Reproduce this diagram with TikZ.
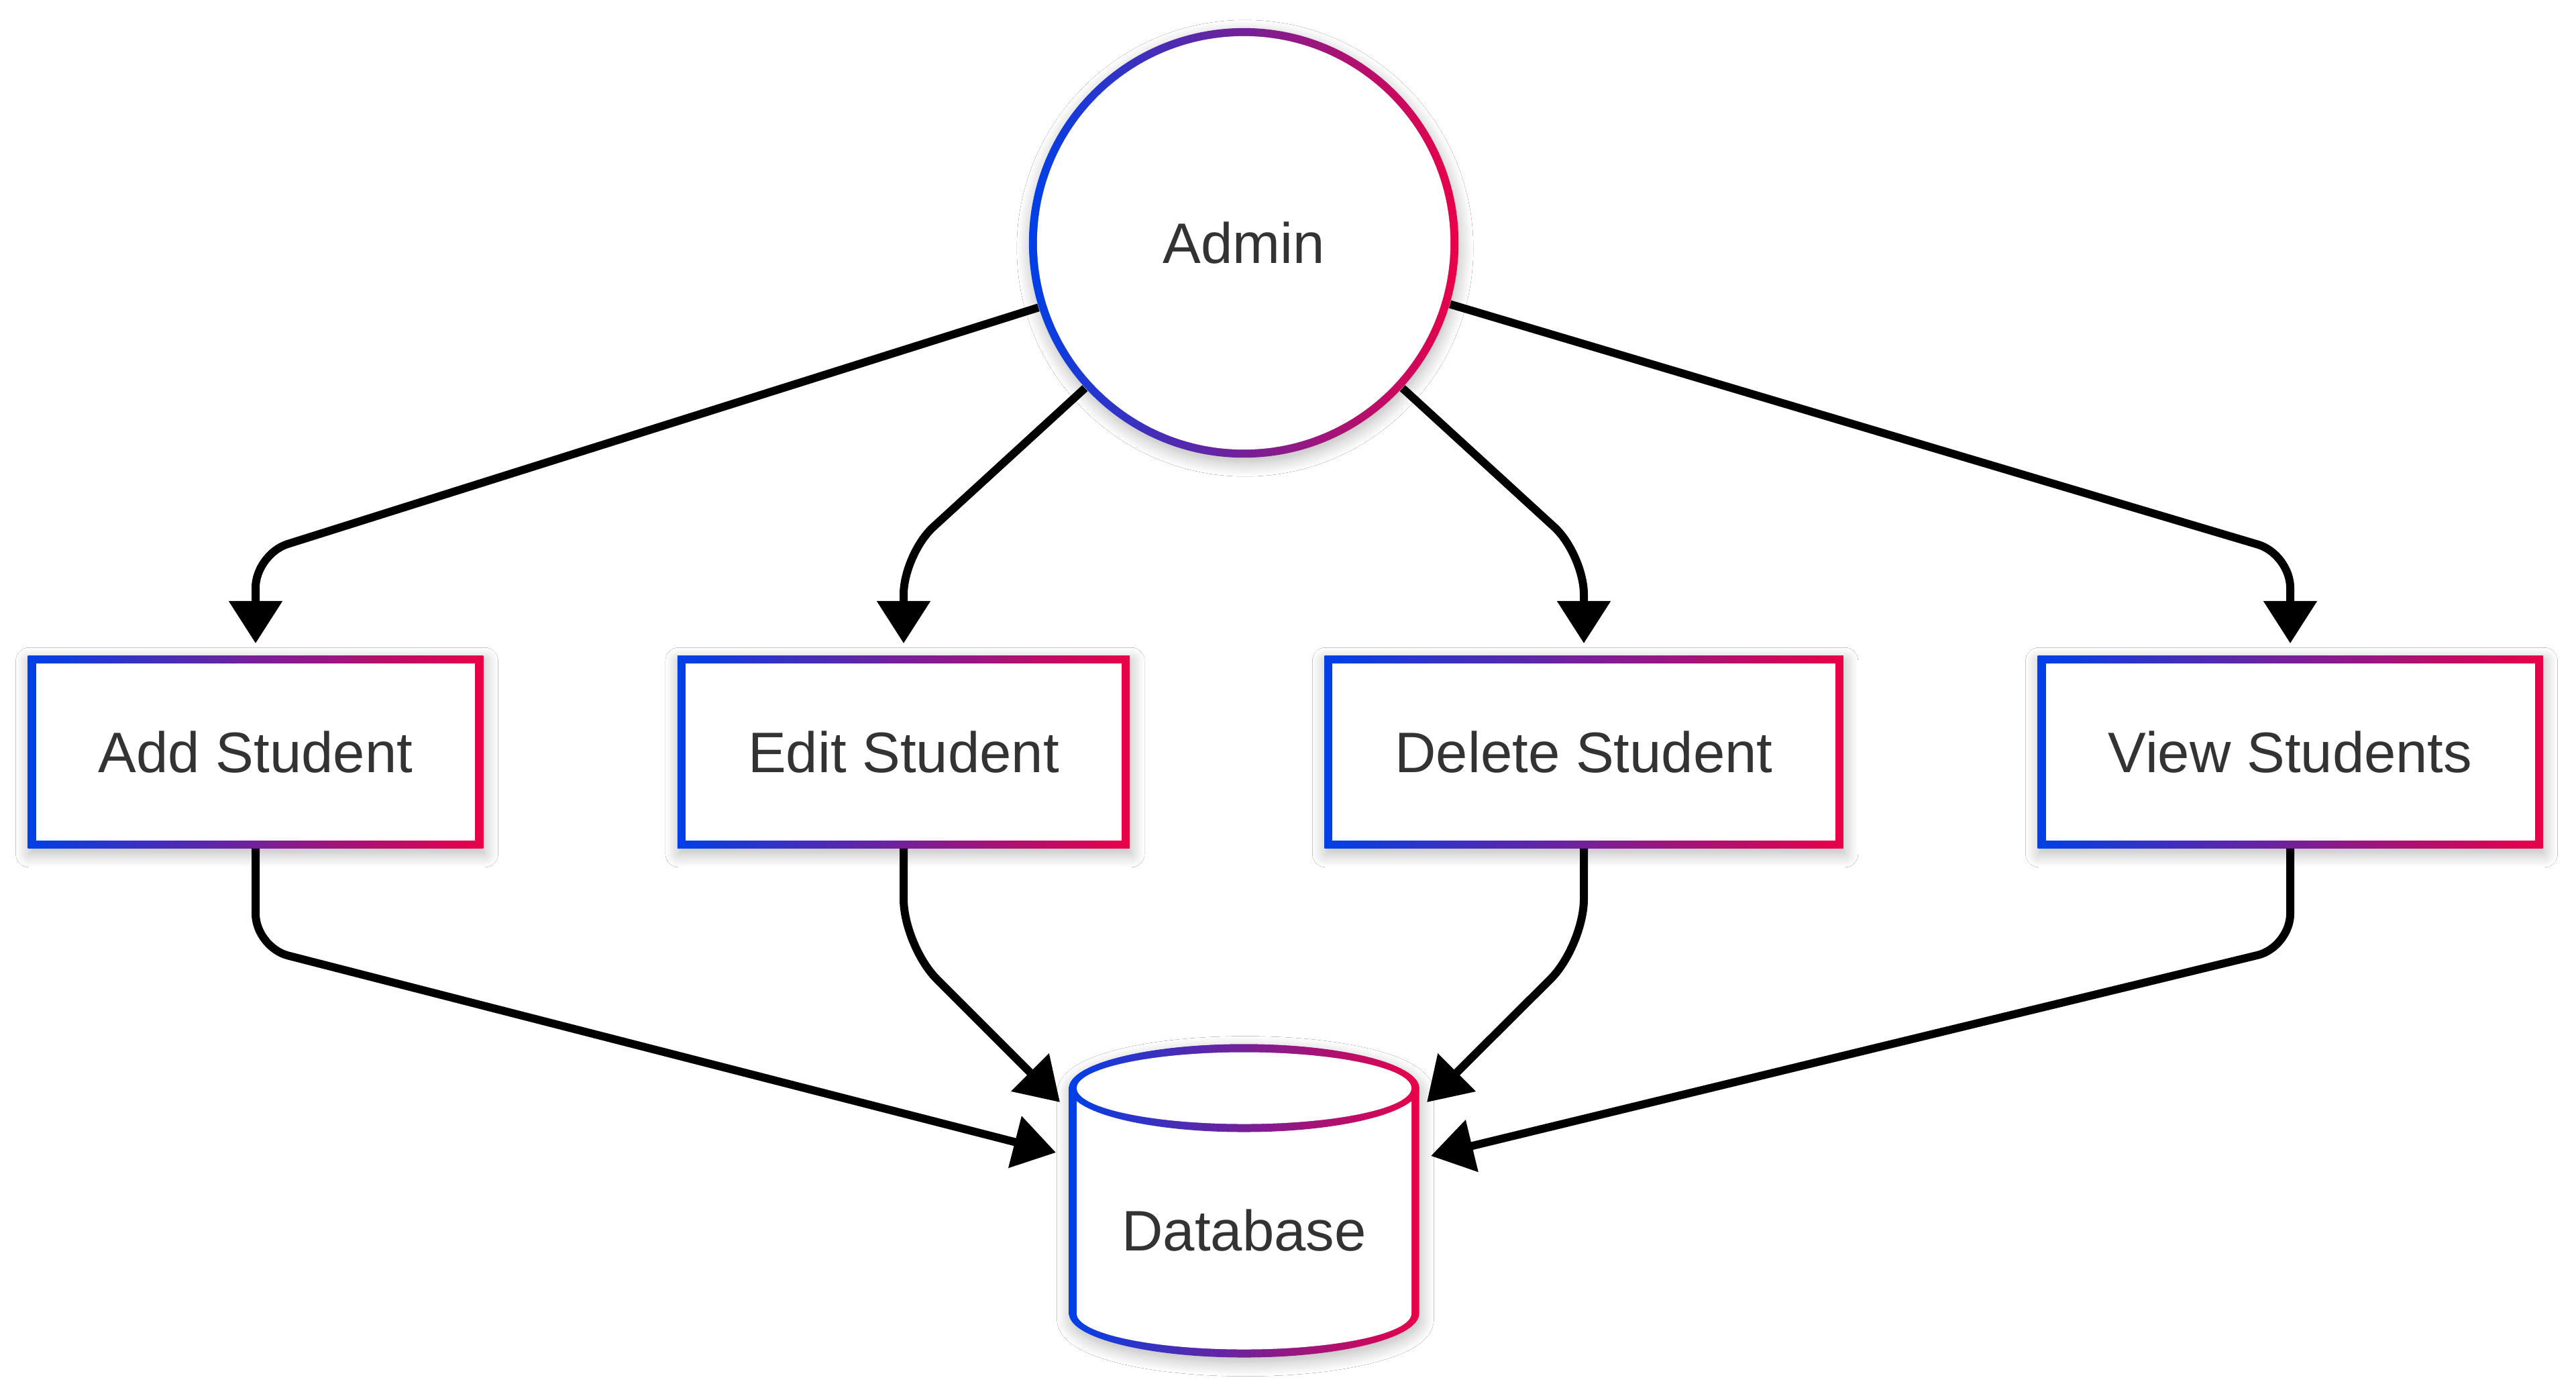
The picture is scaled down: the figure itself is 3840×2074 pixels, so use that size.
\documentclass[tikz,border=0pt]{standalone}
\usepackage{fontspec}
\setmainfont{Liberation Sans}
\usetikzlibrary{arrows.meta,backgrounds,shadows.blur}
\definecolor{gblue}{HTML}{0040E8}
\definecolor{gred}{HTML}{EA0048}
\definecolor{txt}{HTML}{333333}
\begin{document}
\begin{tikzpicture}[x=0.01cm,y=-0.01cm,
  lbl/.style={text=txt,font=\fontsize{24.2pt}{29pt}\selectfont,inner sep=0pt},
  boxnode/.style={lbl,rectangle,minimum height=2.86cm,inner xsep=1.045cm},
  conn/.style={line width=0.12cm,black,-{Triangle[length=0.63cm,width=0.77cm]}},
  gradfill/.style={left color=gblue,right color=gred},
  shadowed/.style={blur shadow={shadow xshift=0.02cm,shadow yshift=-0.08cm,shadow blur radius=0.2cm,shadow opacity=28,shadow blur steps=14}}
]
\useasboundingbox (0,0) rectangle (3840,2074);

% nodes (text)
\node[lbl,circle,minimum size=6.4cm] (admin) at (1854,362) {Admin};
\node[boxnode] (add)  at (381,1121)  {Add Student};
\node[boxnode] (edit) at (1347,1121) {Edit Student};
\node[boxnode] (del)  at (2361,1121) {Delete Student};
\node[boxnode] (view) at (3414,1121) {View Students};
\node[rectangle,minimum width=5.22cm,minimum height=4.67cm,inner sep=0pt] (db) at (1854.5,1790) {};
\node[lbl] (dbl) at (1854.5,1834) {Database};

% frames
\begin{scope}[on background layer]
  \fill[white] (0,0) rectangle (3840,2074);
  \shade[shadowed,gradfill] (admin.center) circle[radius=3.2cm];
  \fill[white] (admin.center) circle[radius=3.08cm];
  \foreach \n in {add,edit,del,view} {
    \shade[shadowed,gradfill] (\n.south west) rectangle (\n.north east);
    \fill[white] ([shift={(0.12cm,0.12cm)}]\n.south west) rectangle ([shift={(-0.12cm,-0.12cm)}]\n.north east);
  }
  % cylinder
  \shade[shadowed,gradfill] (1593.5,1622) -- (1593.5,1958)
    .. controls (1593.5,1994.2) and (1710.4,2023.5) .. (1854.5,2023.5)
    .. controls (1998.6,2023.5) and (2115.5,1994.2) .. (2115.5,1958)
    -- (2115.5,1622)
    .. controls (2115.5,1585.8) and (1998.6,1556.5) .. (1854.5,1556.5)
    .. controls (1710.4,1556.5) and (1593.5,1585.8) .. (1593.5,1622) -- cycle;
  \fill[white] (1605,1622) -- (1605,1958)
    .. controls (1605,1987.5) and (1716.7,2011.5) .. (1854.5,2011.5)
    .. controls (1992.3,2011.5) and (2104,1987.5) .. (2104,1958)
    -- (2104,1622)
    .. controls (2104,1592.5) and (1992.3,1568.5) .. (1854.5,1568.5)
    .. controls (1716.7,1568.5) and (1605,1592.5) .. (1605,1622) -- cycle;
  \shade[gradfill] (1854.5,1622) ellipse [x radius=261,y radius=65.5];
  \fill[white] (1854.5,1622) ellipse [x radius=249.5,y radius=53.5];
\end{scope}

% waypoints
\coordinate (c1) at (381,826);  \coordinate (t1) at (381,959);
\coordinate (c2) at (1347,826); \coordinate (t2) at (1347,959);
\coordinate (c3) at (2361,826); \coordinate (t3) at (2361,959);
\coordinate (c4) at (3414,826); \coordinate (t4) at (3414,959);
\coordinate (d1) at (381,1412);  \coordinate (e1) at (1574,1718);
\coordinate (d2) at (1347,1410); \coordinate (e2) at (1580,1643);
\coordinate (d3) at (2361,1410); \coordinate (e3) at (2127,1643);
\coordinate (d4) at (3414,1412); \coordinate (e4) at (2133,1723);

% connectors
\draw[conn,rounded corners=0.5cm] (admin) -- (c1) -- (t1);
\draw[conn,rounded corners=0.6cm] (admin) -- (c2) -- (t2);
\draw[conn,rounded corners=0.6cm] (admin) -- (c3) -- (t3);
\draw[conn,rounded corners=0.5cm] (admin) -- (c4) -- (t4);
\draw[conn,rounded corners=0.5cm] (add) -- (d1) -- (e1);
\draw[conn,rounded corners=0.7cm] (edit) -- (d2) -- (e2);
\draw[conn,rounded corners=0.7cm] (del) -- (d3) -- (e3);
\draw[conn,rounded corners=0.5cm] (view) -- (d4) -- (e4);
\end{tikzpicture}
\end{document}
